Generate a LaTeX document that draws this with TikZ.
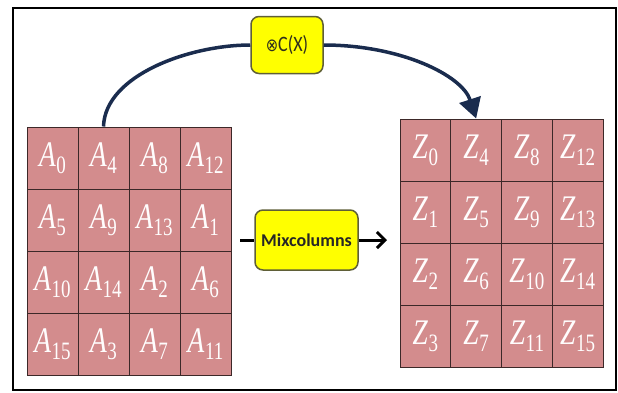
\documentclass[tikz,border=0pt]{standalone}
\usepackage{fontspec}
\newfontfamily\calib{Carlito}
\newfontfamily\timesf{Liberation Serif}
\newfontfamily\djv{DejaVu Sans}
\usetikzlibrary{arrows.meta}
\definecolor{cellpink}{RGB}{211,140,141}
\definecolor{celledge}{RGB}{60,40,40}
\definecolor{navy}{RGB}{26,44,78}
\definecolor{boxedge}{RGB}{95,95,55}
\definecolor{yel}{RGB}{255,255,0}
\tikzset{
  cell/.style={draw=celledge, line width=1pt, fill=cellpink, inner sep=0pt,
    text=white!97!pink},
  lcell/.style={cell, minimum width=51pt, minimum height=62pt},
  rcell/.style={cell, minimum width=50.75pt, minimum height=62pt},
  ybox/.style={draw=boxedge, line width=1.5pt, fill=yel, rounded corners=8pt, inner sep=0pt},
  curvearrow/.style={navy, line width=3.5pt},
  midline/.style={black, line width=3pt},
}
\newcommand{\cellsym}[2]{\scalebox{0.76}[1]{{\timesf\itshape\fontsize{36}{40}\selectfont #1}\kern1pt\raisebox{-7pt}{\timesf\fontsize{25}{28}\selectfont #2}}}
\begin{document}
\begin{tikzpicture}[x=1pt,y=-1pt]
\useasboundingbox (0,0) rectangle (618,392);
\draw[line width=2pt] (13,8) rectangle (616,390);
% left grid
\foreach \lab [count=\i from 0] in {0,4,8,12,5,9,13,1,10,14,2,6,15,3,7,11}{
  \pgfmathtruncatemacro\r{div(\i,4)}
  \pgfmathtruncatemacro\c{mod(\i,4)}
  \node[lcell] (L\i) at ({52.5+51*\c},{158+62*\r}) {\cellsym{A}{\lab}};
}
% right grid
\foreach \i in {0,...,15}{
  \pgfmathtruncatemacro\r{div(\i,4)}
  \pgfmathtruncatemacro\c{mod(\i,4)}
  \pgfmathtruncatemacro\lab{\r+4*\c}
  \node[rcell] (R\i) at ({425.4+50.75*\c},{150+62*\r}) {\cellsym{Z}{\lab}};
}
% top box
\node[ybox, minimum width=72pt, minimum height=57pt, text=boxedge!50!black,
  font=\calib\fontsize{22}{24}\selectfont] (ctop) at (287,45) {\scalebox{0.82}[1]{{\djv\fontsize{18}{20}\selectfont ⊗}C(X)}};
% middle box
\node[ybox, minimum width=103pt, minimum height=60pt, text=black!85,
  font=\calib\bfseries\fontsize{18}{20}\selectfont] (mix) at (306.5,240) {Mixcolumns};
\coordinate (mstart) at (240,240);
\coordinate (mend) at (387,240);
\draw[midline] (mstart) -- (mix.west);
\draw[midline, -{Straight Barb[length=8pt,width=16pt]}] (mix.east) -- (mend);
% curve
\draw[curvearrow] (L1.north) .. controls (105,75) and (190,45) .. (ctop.west);
\draw[curvearrow, -{Triangle[length=20pt,width=22pt]}] (ctop.east) .. controls (400,45) and (462,75) .. (R1.north);
\end{tikzpicture}
\end{document}
